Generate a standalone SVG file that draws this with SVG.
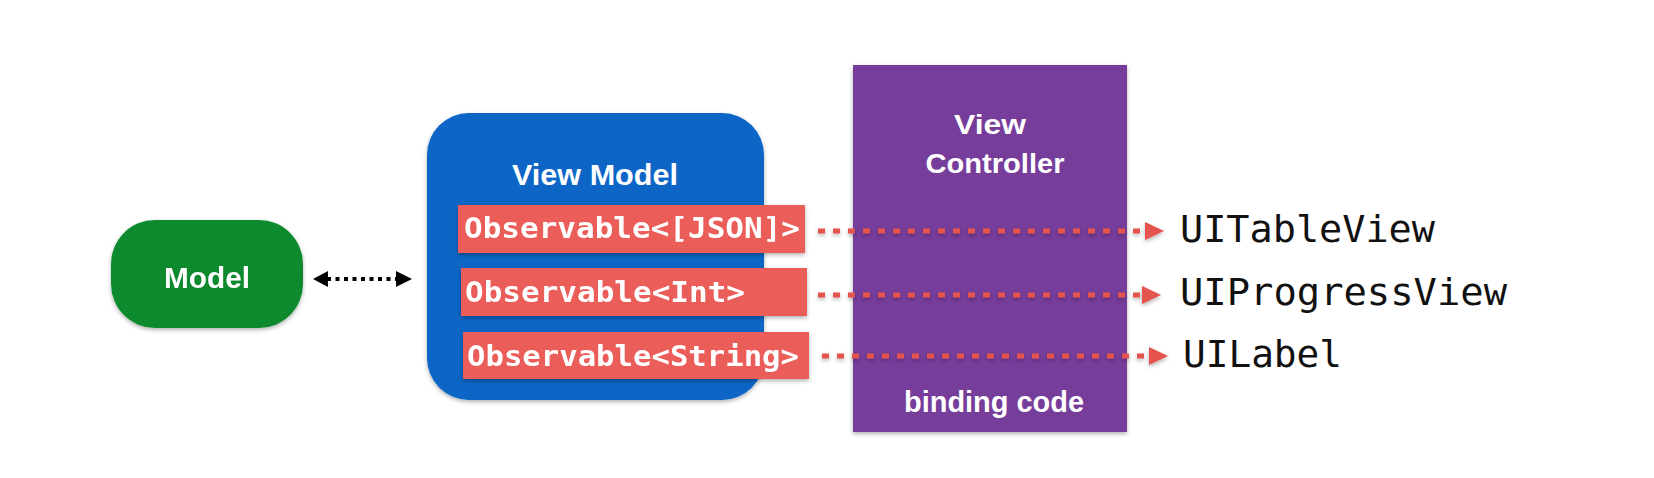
<svg xmlns="http://www.w3.org/2000/svg" width="1654" height="478" viewBox="0 0 1654 478">
<style>
.sans{font-family:"Liberation Sans",Arial,sans-serif;font-weight:bold;fill:#fff;text-anchor:middle}
.obs{font-family:"DejaVu Sans Mono","Liberation Mono",monospace;font-weight:bold;fill:#fff;font-size:28px}
.ui{font-family:"DejaVu Sans Mono","Liberation Mono",monospace;fill:#111;font-size:38px}
.dash{stroke:#e5534e;stroke-width:5;stroke-dasharray:7 8;fill:none}
.head{fill:#e5534e}
</style>
<defs>
<filter id="sh" x="-10%" y="-10%" width="120%" height="130%">
<feDropShadow dx="0" dy="2" stdDeviation="2" flood-color="#000" flood-opacity="0.3"/>
</filter>
</defs>
<rect width="1654" height="478" fill="#fff"/>
<g id="model" filter="url(#sh)">
<rect x="111" y="220" width="192" height="108" rx="44" fill="#0e8a2f"/>
<text class="sans" x="207" y="288" font-size="29" textLength="86" lengthAdjust="spacingAndGlyphs">Model</text>
</g>
<g id="viewmodel">
<rect x="427" y="113" width="337" height="287" rx="42" fill="#0866c6" filter="url(#sh)"/>
<text class="sans" x="595" y="185" font-size="30" textLength="166" lengthAdjust="spacingAndGlyphs">View Model</text>
</g>
<g id="viewcontroller">
<rect x="853" y="65" width="274" height="367" fill="#773c9b" filter="url(#sh)"/>
<text class="sans" x="990" y="134" font-size="28" textLength="72" lengthAdjust="spacingAndGlyphs">View</text>
<text class="sans" x="995" y="173" font-size="28" textLength="139" lengthAdjust="spacingAndGlyphs">Controller</text>
<text class="sans" x="994" y="412" font-size="29" textLength="180" lengthAdjust="spacingAndGlyphs">binding code</text>
</g>
<g id="obs-json" filter="url(#sh)">
<rect x="458" y="205" width="347" height="48" fill="#eb5d58"/>
<text class="obs" x="464" y="238" textLength="336" lengthAdjust="spacingAndGlyphs">Observable&lt;[JSON]&gt;</text>
</g>
<g id="obs-int" filter="url(#sh)">
<rect x="461" y="268" width="346" height="48" fill="#eb5d58"/>
<text class="obs" x="465" y="302" textLength="280" lengthAdjust="spacingAndGlyphs">Observable&lt;Int&gt;</text>
</g>
<g id="obs-string" filter="url(#sh)">
<rect x="463" y="332" width="346" height="47" fill="#eb5d58"/>
<text class="obs" x="467" y="366" textLength="332" lengthAdjust="spacingAndGlyphs">Observable&lt;String&gt;</text>
</g>
<g id="uitableview"><text class="ui" x="1180" y="242" textLength="255" lengthAdjust="spacingAndGlyphs">UITableView</text></g>
<g id="uiprogressview"><text class="ui" x="1180" y="305" textLength="327" lengthAdjust="spacingAndGlyphs">UIProgressView</text></g>
<g id="uilabel"><text class="ui" x="1183" y="367" textLength="159" lengthAdjust="spacingAndGlyphs">UILabel</text></g>
<g id="connectors">
<line x1="327" y1="279" x2="397" y2="279" stroke="#000" stroke-width="4" stroke-dasharray="4 4.5"/>
<polygon points="328,271 313,279 328,287" fill="#000"/>
<polygon points="396,271 412,279 396,287" fill="#000"/>
<g filter="url(#sh)">
<line class="dash" x1="818" y1="231" x2="1145" y2="231"/>
<polygon class="head" points="1145,222 1164,231 1145,240"/>
<line class="dash" x1="818" y1="295" x2="1142" y2="295"/>
<polygon class="head" points="1142,286 1161,295 1142,304"/>
<line class="dash" x1="822" y1="356" x2="1149" y2="356"/>
<polygon class="head" points="1149,347 1168,356 1149,365"/>
</g>
</g>
</svg>
